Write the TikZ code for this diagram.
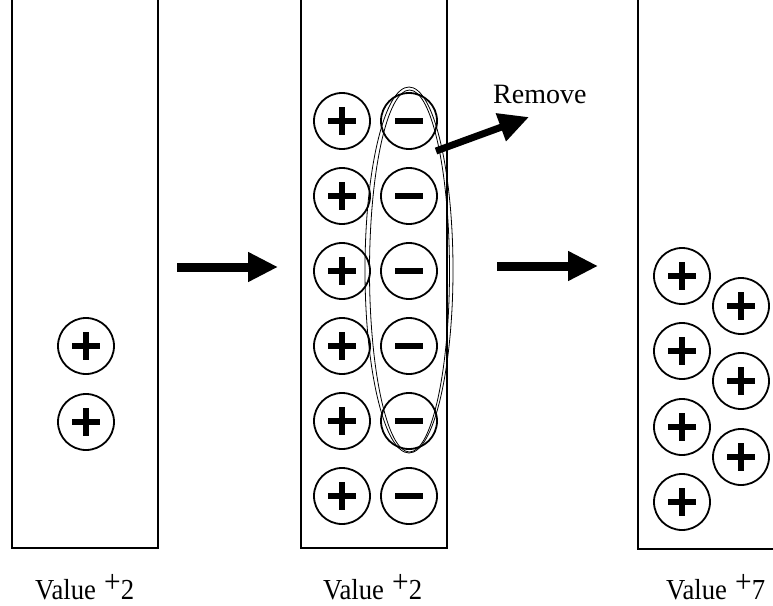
\documentclass[tikz,border=0pt]{standalone}
\usepackage{fontspec}
\setmainfont{Liberation Serif}
\usetikzlibrary{arrows.meta}
\newcommand{\valtext}[1]{\scalebox{0.92}[1]{Value\hspace{9pt}\raisebox{6.5pt}{\fontsize{32}{32}\selectfont +}#1}}
\begin{document}
\begin{tikzpicture}[x=1pt,y=-1pt,
  ionbase/.style={circle, draw, line width=1.8pt, minimum size=56pt, inner sep=0pt},
  plusion/.style={ionbase, path picture={
     \fill ([xshift=-14pt,yshift=-3pt]path picture bounding box.center) rectangle ++(28pt,6pt);
     \fill ([xshift=-3pt,yshift=-14pt]path picture bounding box.center) rectangle ++(6pt,28pt);}},
  minusion/.style={ionbase, path picture={
     \fill ([xshift=-14pt,yshift=-3pt]path picture bounding box.center) rectangle ++(28pt,6pt);}},
  wall/.style={line width=2.4pt, line join=miter},
  bigarrow/.style={line width=9pt, -{Triangle[length=30pt,width=28pt]}},
  encircle/.style={line width=0.8pt},
  valuelabel/.style={anchor=base west, inner sep=0pt, font=\fontsize{29}{29}\selectfont},
  ]
\useasboundingbox (0,0) rectangle (773,605);

% containers
\draw[wall] (12,0) -- (12,548) -- (158,548) -- (158,0);
\draw[wall] (301,0) -- (301,548) -- (447,548) -- (447,0);
\draw[wall] (638,0) -- (638,549) -- (773,549);

% left container
\node[plusion] (l1) at (86,346) {};
\node[plusion] (l2) at (86,422) {};

% middle container
\foreach \i/\y in {1/121,2/196,3/271,4/346,5/421,6/496}{
  \node[plusion] (mp\i) at (342,\y) {};
  \node[minusion] (mn\i) at (409,\y) {};
}
\draw[encircle] (409,270) ellipse [x radius=44pt, y radius=183pt];
\draw[encircle] (409.5,271) ellipse [x radius=40pt, y radius=181pt];

% right container
\foreach \i/\y in {1/276,2/351,3/427,4/502}{
  \node[plusion] (ra\i) at (682,\y) {};
}
\foreach \i/\y in {1/306,2/381,3/457}{
  \node[plusion] (rb\i) at (741,\y) {};
}

% arrows
\coordinate (a1s) at (177,267);
\coordinate (a1e) at (278,267);
\coordinate (a2s) at (497,266);
\coordinate (a2e) at (598,266);
\coordinate (rs) at (436,151);
\coordinate (re) at (529,117);
\draw[bigarrow] (a1s) -- (a1e);
\draw[bigarrow] (a2s) -- (a2e);
\draw[line width=7pt, -{Triangle[length=30pt,width=28pt]}] (rs) -- (re);

% texts
\node[anchor=base west, inner sep=0pt, font=\fontsize{28}{28}\selectfont] (remove) at (493,103) {Remove};
\node[valuelabel] (v1) at (35,599) {\valtext{2}};
\node[valuelabel] (v2) at (323,599) {\valtext{2}};
\node[valuelabel] (v3) at (666,599) {\valtext{7}};
\end{tikzpicture}
\end{document}
